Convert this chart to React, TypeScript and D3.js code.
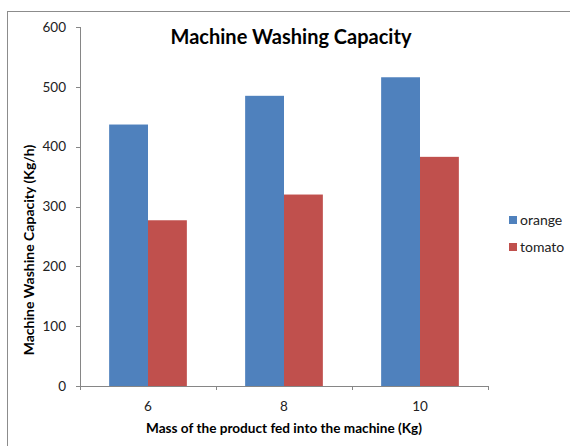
import React from "react";
import * as d3 from "d3";

const categories = ["6", "8", "10"];
const seriesNames = ["orange", "tomato"];
const orangeValues = [437, 485, 516];
const tomatoValues = [277, 320, 383];
const yTicks = [0, 100, 200, 300, 400, 500, 600];
const colors = ["#4F81BD", "#C0504D"];

const W = 570;
const H = 446;
const plot = { left: 80, right: 488, top: 27, bottom: 386 };
const FONT = "Lato, 'Open Sans', sans-serif";

export default function App() {
  const x = d3
    .scaleBand<string>()
    .domain(categories)
    .range([plot.left, plot.right])
    .paddingInner(0)
    .paddingOuter(0);
  const y = d3.scaleLinear().domain([0, 600]).range([plot.bottom, plot.top]);
  const series = [orangeValues, tomatoValues];
  const groupW = x.bandwidth() * (2 / 3.5);
  const barW = groupW / 2;

  const catTicks = [...categories.map((c) => x(c)!), plot.right];

  return (
    <svg
      width={W}
      height={H}
      style={{ position: "absolute", left: 0, top: 0, display: "block", background: "#fff" }}
      fontFamily={FONT}
    >
      <rect x={7.5} y={11.5} width={700} height={600} fill="#fff" stroke="#8c8c8c" strokeWidth={1} />

      <text x={291} y={44} textAnchor="middle" fontSize={20} fontWeight="bold" fill="#000">
        Machine Washing Capacity
      </text>

      {/* bars */}
      {categories.map((c, i) =>
        series.map((vals, s) => {
          const bx = x(c)! + (x.bandwidth() - groupW) / 2 + s * barW;
          return (
            <rect
              key={c + s}
              x={bx}
              y={y(vals[i])}
              width={barW}
              height={y(0) - y(vals[i])}
              fill={colors[s]}
            />
          );
        })
      )}

      {/* y axis */}
      <line x1={plot.left + 0.5} x2={plot.left + 0.5} y1={plot.top} y2={plot.bottom} stroke="#868686" />
      {yTicks.map((t) => (
        <g key={t}>
          <line x1={plot.left - 4} x2={plot.left} y1={Math.round(y(t)) + 0.5} y2={Math.round(y(t)) + 0.5} stroke="#868686" />
          <text x={66} y={y(t) + 4.8} textAnchor="end" fontSize={13.5} fill="#222">
            {t}
          </text>
        </g>
      ))}

      {/* x axis */}
      <line x1={plot.left} x2={plot.right + 0.5} y1={plot.bottom + 0.5} y2={plot.bottom + 0.5} stroke="#868686" />
      {catTicks.map((t, i) => (
        <line key={i} x1={Math.round(t) + 0.5} x2={Math.round(t) + 0.5} y1={plot.bottom} y2={plot.bottom + 4} stroke="#868686" />
      ))}
      {categories.map((c) => (
        <text key={c} x={x(c)! + x.bandwidth() / 2} y={411} textAnchor="middle" fontSize={13.5} fill="#222">
          {c}
        </text>
      ))}

      <text x={284} y={433} textAnchor="middle" fontSize={13.6} fontWeight="bold" fill="#000">
        Mass of the product fed into the machine (Kg)
      </text>
      <text
        transform={`translate(34, 250) rotate(-90)`}
        textAnchor="middle"
        fontSize={14}
        fontWeight="bold"
        fill="#000"
      >
        Machine Washine Capacity (Kg/h)
      </text>

      {/* legend */}
      {seriesNames.map((n, i) => (
        <g key={n} transform={`translate(509, ${216 + i * 27})`}>
          <rect x={0} y={0} width={8} height={8} fill={colors[i]} />
          <text x={11} y={8.5} fontSize={14} fill="#222">
            {n}
          </text>
        </g>
      ))}
    </svg>
  );
}
